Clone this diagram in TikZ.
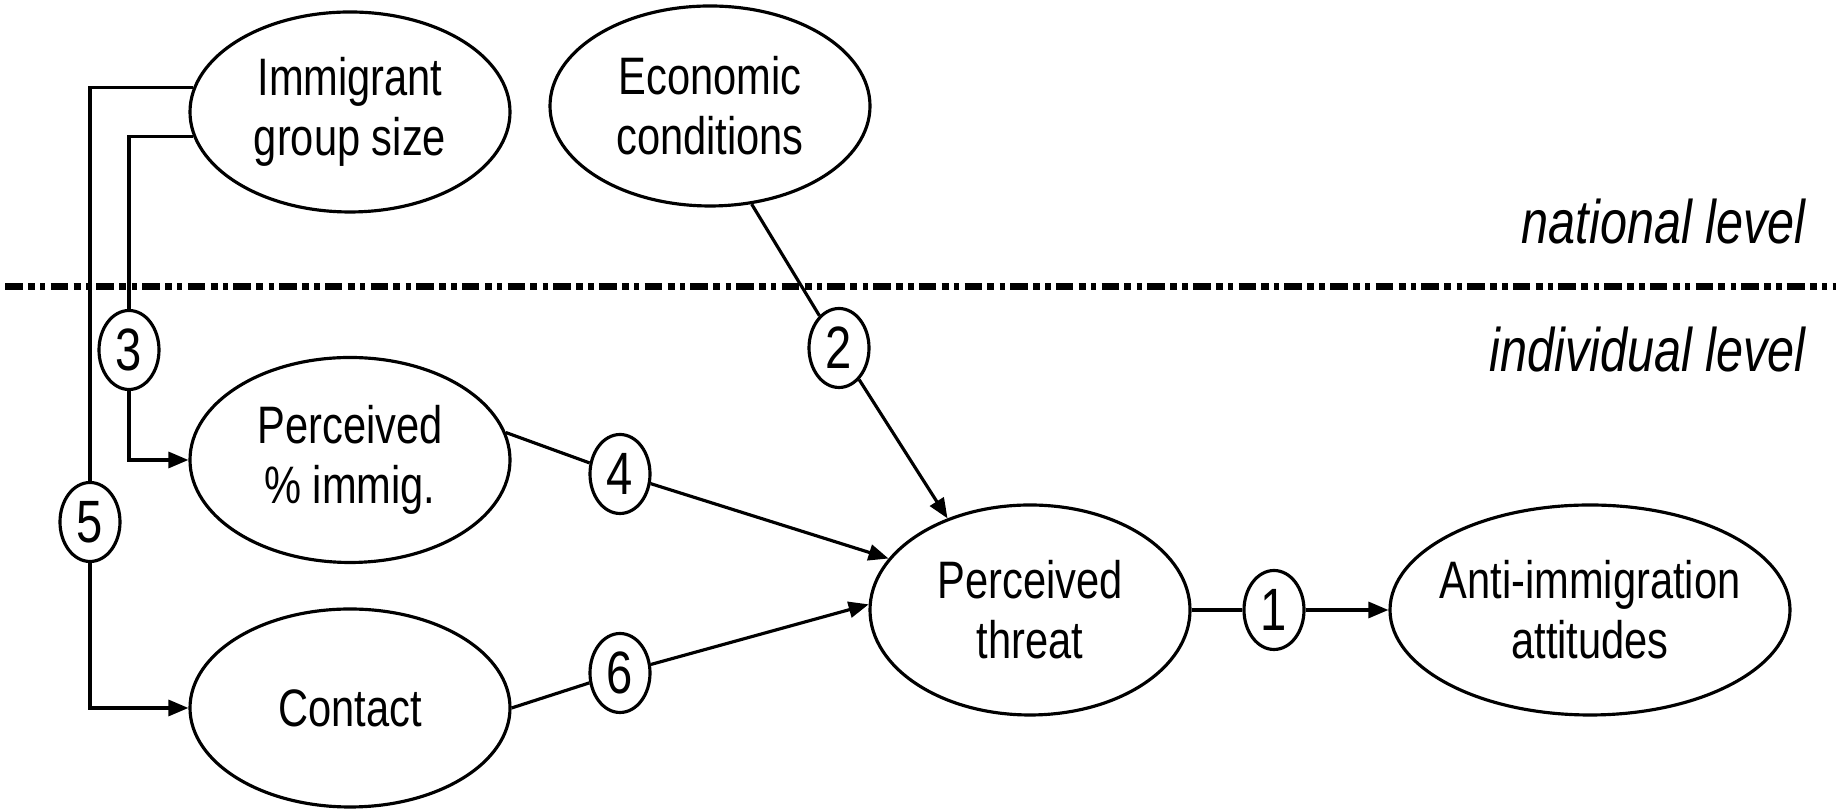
\documentclass[tikz,border=0pt]{standalone}
\usepackage{fontspec}
\setmainfont{Liberation Sans}[FakeStretch=0.79]
\usetikzlibrary{arrows.meta,positioning,shapes.geometric}

\begin{document}
\begin{tikzpicture}[font=\fontsize{15}{17}\selectfont,line width=0.9pt,
  var/.style={draw,ellipse,minimum width=3.2cm,minimum height=2.0cm,align=center,inner sep=0pt},
  num/.style={draw,ellipse,minimum width=0.6cm,minimum height=0.79cm,inner sep=0pt,font=\fontsize{17}{19}\selectfont},
  lvl/.style={anchor=east,inner sep=0pt,font=\fontsize{17.5}{20}\selectfont\itshape},
  arr/.style={-{Triangle[length=0.2cm,width=0.16cm]}}]
\useasboundingbox (0,0) rectangle (18.36,8.09);
% variables
\node[var] (imm) at (3.50,6.97) {Immigrant\\group size};
\node[var] (econ) at (7.10,7.03) {Economic\\conditions};
\node[var,minimum height=2.05cm] (perc) at (3.50,3.49) {Perceived\\\% immig.};
\node[var,minimum height=1.98cm] (cont) at (3.50,1.01) {Contact};
\node[var,minimum height=2.1cm] (threat) at (10.30,1.99) {Perceived\\threat};
\node[var,minimum width=4.0cm,minimum height=2.1cm,inner xsep=-0.12cm] (anti) at (15.90,1.99) {Anti-immigration\\attitudes};
% path numbers
\node[num] (n1) at (12.74,1.99) {1};
\node[num] (n2) at (8.39,4.61) {2};
\node[num] (n3) at (1.29,4.59) {3};
\node[num] (n4) at (6.20,3.35) {4};
\node[num] (n5) at (0.90,2.87) {5};
\node[num] (n6) at (6.20,1.36) {6};
% levels
\coordinate (sepl) at (0.05,5.22);
\coordinate (sepr) at (18.36,5.22);
\draw[line width=2pt,dash pattern=on 5pt off 1.5pt on 2pt off 1.5pt on 1.5pt off 1.5pt] (sepl) -- (sepr);
\node[lvl] (nat) at (18.07,5.87) {national level};
\node[lvl] (ind) at (18.07,4.59) {individual level};
% paths
\draw (threat.east) -- (n1);
\draw[arr] (n1) -- (anti.west);
\draw (econ.-67) -- (n2);
\draw[arr] (n2) -- (threat.132);
\draw (imm.189) -| (n3.north);
\draw[arr] (n3.south) |- (perc.west);
\draw (perc.10) -- (n4);
\draw[arr] (n4) -- (threat.160);
\draw (imm.171) -| (n5.north);
\draw[arr] (n5.south) |- (cont.west);
\draw (cont.east) -- (n6);
\draw[arr] (n6) -- (threat.178);
\end{tikzpicture}
\end{document}
